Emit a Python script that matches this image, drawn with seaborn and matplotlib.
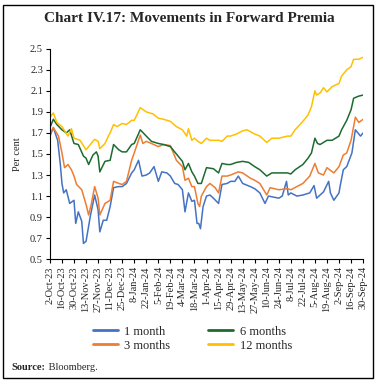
import numpy as np
import pandas as pd
import matplotlib
matplotlib.use("Agg")
import matplotlib.pyplot as plt
import seaborn as sns
from matplotlib.lines import Line2D
from matplotlib.patches import Rectangle

# ---- data (days since 2-Oct-2023, per cent) ----
START = pd.Timestamp("2023-10-02")

days_1m = [0, 4, 9, 12, 14, 16, 19, 23, 28, 30, 33, 37, 39, 42, 47, 52, 56, 58, 62, 66,
           70, 74, 80, 84, 89, 95, 98, 103, 107, 112, 116, 121, 126, 130, 136, 140, 145, 149,
           154, 157, 161, 165, 168, 171, 173, 175, 178, 182, 186, 190, 196, 200, 206, 210,
           215, 219, 224, 233, 238, 244, 250, 254, 266, 270, 275, 277, 280, 287, 294, 302,
           307, 310, 314, 318, 324, 326, 330, 336, 337, 341, 345, 351, 355, 361, 364]
vals_1m = [1.67, 1.75, 1.63, 1.41, 1.22, 1.13, 1.16, 1.03, 1.06, 0.84, 0.95, 0.86, 0.65, 0.67,
           0.91, 1.11, 0.97, 0.76, 0.87, 0.87, 1.00, 1.18, 1.19, 1.19, 1.22, 1.32, 1.35, 1.44,
           1.29, 1.30, 1.32, 1.38, 1.24, 1.33, 1.32, 1.29, 1.22, 1.21, 1.16, 0.95, 1.13, 1.05,
           1.06, 0.84, 0.84, 0.79, 1.00, 1.10, 1.11, 1.08, 1.03, 1.21, 1.22, 1.24, 1.24, 1.29,
           1.22, 1.19, 1.17, 1.13, 1.03, 1.10, 1.08, 1.10, 1.24, 1.11, 1.13, 1.10, 1.11, 1.13,
           1.20, 1.08, 1.11, 1.14, 1.24, 1.13, 1.06, 1.13, 1.18, 1.35, 1.38, 1.51, 1.73, 1.67,
           1.70]

days_3m = [0, 4, 10, 14, 17, 21, 25, 28, 31, 37, 42, 45, 48, 52, 56, 58, 64, 70, 74, 80, 84,
           89, 95, 98, 105, 108, 112, 118, 126, 132, 140, 147, 154, 157, 161, 165, 168, 172,
           174, 176, 182, 186, 192, 196, 200, 206, 210, 219, 224, 233, 238, 244, 252, 256,
           266, 276, 280, 287, 294, 302, 308, 312, 318, 322, 330, 336, 341, 345, 350, 355,
           359, 364]
vals_3m = [1.69, 1.75, 1.67, 1.51, 1.37, 1.40, 1.35, 1.29, 1.21, 1.16, 1.02, 0.92, 1.02, 1.19,
           1.08, 0.92, 1.03, 1.06, 1.24, 1.22, 1.21, 1.24, 1.44, 1.51, 1.68, 1.60, 1.62, 1.60,
           1.57, 1.59, 1.58, 1.44, 1.38, 1.25, 1.27, 1.19, 1.19, 1.03, 1.00, 1.10, 1.19, 1.22,
           1.18, 1.13, 1.29, 1.29, 1.30, 1.33, 1.32, 1.27, 1.25, 1.22, 1.11, 1.18, 1.16, 1.17,
           1.16, 1.19, 1.22, 1.29, 1.41, 1.32, 1.30, 1.37, 1.32, 1.38, 1.49, 1.51, 1.63, 1.85,
           1.80, 1.83]

days_6m = [0, 4, 8, 14, 19, 23, 28, 33, 39, 42, 45, 50, 54, 56, 58, 64, 70, 74, 80, 84, 89,
           95, 98, 105, 112, 118, 126, 132, 140, 147, 154, 157, 161, 165, 168, 172, 176, 180,
           182, 190, 196, 200, 206, 210, 217, 224, 231, 238, 244, 252, 258, 266, 276, 280,
           285, 294, 300, 304, 308, 311, 314, 322, 328, 336, 339, 345, 350, 353, 359, 364]
vals_6m = [1.75, 1.83, 1.78, 1.73, 1.70, 1.73, 1.60, 1.59, 1.48, 1.46, 1.40, 1.49, 1.52, 1.48,
           1.33, 1.43, 1.44, 1.59, 1.54, 1.52, 1.52, 1.59, 1.60, 1.73, 1.67, 1.62, 1.60, 1.59,
           1.57, 1.50, 1.43, 1.35, 1.41, 1.33, 1.29, 1.22, 1.22, 1.32, 1.37, 1.36, 1.32, 1.41,
           1.40, 1.40, 1.42, 1.43, 1.42, 1.38, 1.35, 1.29, 1.32, 1.32, 1.32, 1.31, 1.35, 1.40,
           1.46, 1.51, 1.65, 1.60, 1.59, 1.63, 1.63, 1.67, 1.73, 1.82, 1.92, 2.03, 2.05, 2.06]

days_12m = [0, 4, 8, 14, 21, 25, 28, 35, 42, 47, 52, 56, 58, 64, 68, 70, 74, 78, 84, 89, 95,
            98, 105, 112, 120, 126, 132, 140, 147, 154, 159, 161, 165, 168, 172, 176, 182,
            186, 196, 200, 206, 210, 217, 224, 229, 238, 244, 252, 258, 266, 276, 280, 285,
            294, 300, 304, 308, 310, 314, 318, 322, 328, 336, 339, 345, 350, 353, 359, 364]
vals_12m = [1.85, 1.89, 1.80, 1.76, 1.67, 1.74, 1.65, 1.63, 1.54, 1.59, 1.64, 1.62, 1.55, 1.60,
            1.67, 1.70, 1.78, 1.76, 1.79, 1.78, 1.82, 1.82, 1.94, 1.90, 1.88, 1.84, 1.83, 1.81,
            1.76, 1.73, 1.67, 1.74, 1.63, 1.65, 1.62, 1.60, 1.65, 1.63, 1.63, 1.62, 1.67, 1.67,
            1.69, 1.72, 1.73, 1.69, 1.67, 1.61, 1.65, 1.65, 1.67, 1.67, 1.73, 1.81, 1.87, 1.95,
            2.10, 2.06, 2.08, 2.13, 2.09, 2.14, 2.17, 2.24, 2.30, 2.33, 2.40, 2.40, 2.42]

series_names = ["1 month", "3 months", "6 months", "12 months"]
series_colors = ["#4472C4", "#ED7D31", "#1E6B30", "#FFC000"]

# ---- long table for seaborn ----
frames = []
for name, d, v in zip(series_names,
                      [days_1m, days_3m, days_6m, days_12m],
                      [vals_1m, vals_3m, vals_6m, vals_12m]):
    frames.append(pd.DataFrame({"date": START + pd.to_timedelta(d, unit="D"),
                                "value": v, "tenor": name}))
df = pd.concat(frames, ignore_index=True)

sns.set_style("ticks")
plt.rcParams["font.family"] = ["Liberation Serif", "DejaVu Serif"]

fig = plt.figure(figsize=(3.81, 3.84), dpi=100)
ax = fig.add_axes([0.131, 0.325, 0.822, 0.548])

palette = dict(zip(series_names, series_colors))
sns.lineplot(data=df, x="date", y="value", hue="tenor", palette=palette,
             hue_order=series_names, linewidth=1.1, legend=False, ax=ax)

# axes styling
ticks = pd.date_range("2023-10-02", "2024-09-30", freq="14D")
ax.set_xlim(ticks[0], ticks[-1])
ax.set_xticks(ticks)
ax.set_xticklabels([f"{t.day}-{t.strftime('%b-%y')}" for t in ticks],
                   rotation=90, fontsize=7.5)
ax.set_ylim(0.5, 2.5)
yt = np.arange(0.5, 2.51, 0.2)
ax.set_yticks(yt)
ax.set_yticklabels([f"{y:.1f}" for y in yt], fontsize=7.5)
ax.tick_params(axis="both", length=3, width=0.8, color="black", pad=2)
ax.set_xlabel("")
ax.set_ylabel("Per cent", fontsize=7.5, labelpad=6)
sns.despine(ax=ax)
for s in ["left", "bottom"]:
    ax.spines[s].set_linewidth(0.8)
    ax.spines[s].set_color("black")

# legend
handles = [Line2D([0], [0], color=c, lw=2) for c in series_colors]
fig.legend(handles, series_names, loc="center", bbox_to_anchor=(0.505, 0.118),
           ncol=2, frameon=False, fontsize=9, handlelength=2.0,
           columnspacing=3.0, labelspacing=0.15, handletextpad=0.55)

# title, source, frame
fig.text(0.497, 0.953, "Chart IV.17: Movements in Forward Premia", ha="center",
         va="center", fontsize=11, fontweight="bold")
src = fig.text(0.031, 0.042, "Source:", ha="left", va="center", fontsize=7.5,
               fontweight="bold")
ax.annotate(" Bloomberg.", xy=(1, 0.5), xycoords=src, ha="left", va="center",
            fontsize=7.5)
fig.patches.append(Rectangle((0.008, 0.016), 0.971, 0.971, transform=fig.transFigure,
                             fill=False, edgecolor="black", linewidth=1.0))

fig.savefig("out.png", dpi=100)
